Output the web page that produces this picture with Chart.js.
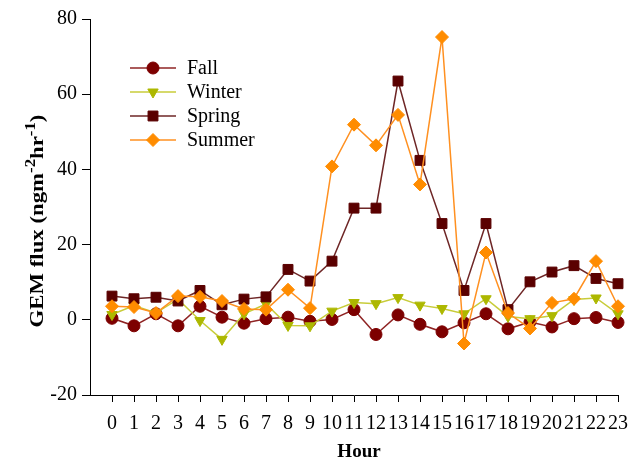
<!DOCTYPE html>
<html>
<head>
<meta charset="utf-8">
<script src="https://cdn.jsdelivr.net/npm/chart.js@4/dist/chart.umd.min.js"></script>
<style>
  html, body { margin: 0; padding: 0; background: #fff; }
  #wrap { width: 638px; height: 460px; }
</style>
</head>
<body>
<div id="wrap"><canvas id="c" width="638" height="460"></canvas></div>
<script>
// Hourly GEM flux by season
const hours = [0,1,2,3,4,5,6,7,8,9,10,11,12,13,14,15,16,17,18,19,20,21,22,23];
const fall   = [0.4,-1.6,1.6,-1.6,3.6,0.7,-0.9,0.3,0.7,-0.4,0.1,2.7,-3.9,1.3,-1.2,-3.2,-0.8,1.6,-2.4,-0.6,-1.9,0.3,0.6,-0.7];
const winter = [1.4,3.8,1.8,5.5,-0.2,-5.2,1.6,4.2,-1.5,-1.6,2.3,4.6,4.3,5.9,3.9,3.0,1.6,5.6,0.9,0.3,1.1,5.4,5.8,1.6];
const spring = [6.3,5.6,6.0,5.0,7.8,4.0,5.5,6.1,13.4,10.3,15.6,29.7,29.7,63.5,42.4,25.6,7.8,25.6,2.7,10.1,12.7,14.4,11.0,9.6];
const summer = [3.6,3.4,1.8,6.3,6.1,5.0,2.9,2.7,8.0,3.1,40.8,51.9,46.4,54.5,36.0,75.2,-6.3,17.9,1.8,-2.3,4.5,5.6,15.6,3.6];
const yTicks = [-20,0,20,40,60,80];
const seriesNames = ['Fall','Winter','Spring','Summer'];

const serif = '"Liberation Serif", "Times New Roman", serif';

function pts(vals) { return hours.map((h, i) => ({ x: h, y: vals[i] })); }

const styles = [
  { line: '#8f2424', fill: '#7d0000', point: 'circle',   radius: 6,   rotation: 0 },
  { line: '#c8cc3a', fill: '#adb800', point: 'triangle', radius: 6,   rotation: 180 },
  { line: '#6e2626', fill: '#5a0000', point: 'rect',     radius: 7,   rotation: 0 },
  { line: '#ff9020', fill: '#ff8c00', point: 'rectRot',  radius: 6.5, rotation: 0 }
];
const seriesData = [fall, winter, spring, summer];

const datasets = seriesData.map((vals, i) => ({
  label: seriesNames[i],
  data: pts(vals),
  borderColor: styles[i].line,
  borderWidth: 1.5,
  backgroundColor: styles[i].fill,
  pointBackgroundColor: styles[i].fill,
  pointBorderColor: styles[i].fill,
  pointBorderWidth: 1,
  pointStyle: styles[i].point,
  pointRadius: styles[i].radius,
  pointRotation: styles[i].rotation,
  tension: 0,
  clip: false,
  order: 3 - i
}));

// Legend box and axis titles drawn on the canvas
const extras = {
  id: 'extras',
  afterDraw(chart) {
    const ctx = chart.ctx;
    ctx.save();
    // legend
    const rowY = [68, 92, 116, 140];
    seriesNames.forEach((name, i) => {
      const y = rowY[i];
      ctx.strokeStyle = styles[i].line;
      ctx.lineWidth = 1.5;
      ctx.beginPath();
      ctx.moveTo(130, y);
      ctx.lineTo(176, y);
      ctx.stroke();
      ctx.fillStyle = styles[i].fill;
      ctx.strokeStyle = styles[i].fill;
      ctx.lineWidth = 1;
      Chart.helpers.drawPoint(ctx, {
        pointStyle: styles[i].point,
        radius: styles[i].radius,
        rotation: styles[i].rotation,
        borderWidth: 1
      }, 153, y);
      ctx.fillStyle = '#000';
      ctx.font = '20px ' + serif;
      ctx.textBaseline = 'middle';
      ctx.textAlign = 'left';
      ctx.fillText(name, 187, y + 1);
    });

    // x title
    ctx.fillStyle = '#000';
    ctx.font = 'bold 19px ' + serif;
    ctx.textAlign = 'center';
    ctx.textBaseline = 'middle';
    ctx.fillText('Hour', 359, 452);

    // y title with superscripts, slightly stretched along its length
    ctx.translate(38, 221);
    ctx.rotate(-Math.PI / 2);
    ctx.scale(1.2, 1);
    const big = 'bold 19px ' + serif;
    const small = 'bold 14px ' + serif;
    const parts = [
      { t: 'GEM flux (ngm', f: big, dy: 0 },
      { t: '-2', f: small, dy: -7 },
      { t: 'hr', f: big, dy: 0 },
      { t: '-1', f: small, dy: -7 },
      { t: ')', f: big, dy: 0 }
    ];
    let total = 0;
    parts.forEach(p => { ctx.font = p.f; p.w = ctx.measureText(p.t).width; total += p.w; });
    let x = -total / 2;
    ctx.textAlign = 'left';
    ctx.textBaseline = 'middle';
    parts.forEach(p => { ctx.font = p.f; ctx.fillText(p.t, x, p.dy); x += p.w; });
    ctx.restore();
  }
};

new Chart(document.getElementById('c'), {
  type: 'line',
  data: { datasets },
  options: {
    responsive: false,
    animation: false,
    devicePixelRatio: 1,
    layout: { padding: { top: 19, right: 10, left: 0, bottom: 0 } },
    plugins: { legend: { display: false }, tooltip: { enabled: false } },
    scales: {
      x: {
        type: 'linear',
        min: -1,
        max: 23,
        afterBuildTicks(scale) {
          scale.ticks = hours.map(h => ({ value: h }));
        },
        afterFit(scale) { scale.height = 65; },
        ticks: {
          stepSize: 1,
          autoSkip: false,
          maxRotation: 0,
          padding: 10,
          color: '#000',
          font: { family: serif, size: 20 },
          callback: v => String(v)
        },
        grid: { drawOnChartArea: false, drawTicks: true, tickLength: 7, color: '#000' },
        border: { display: true, color: '#000', width: 1 }
      },
      y: {
        min: -20,
        max: 80,
        afterBuildTicks(scale) {
          scale.ticks = yTicks.map(v => ({ value: v }));
        },
        afterFit(scale) { scale.width = 90; },
        ticks: {
          padding: 5,
          color: '#000',
          font: { family: serif, size: 20 },
          callback: v => String(v)
        },
        grid: { drawOnChartArea: false, drawTicks: true, tickLength: 8, color: '#000' },
        border: { display: true, color: '#000', width: 1 }
      }
    }
  },
  plugins: [extras]
});
</script>
</body>
</html>
